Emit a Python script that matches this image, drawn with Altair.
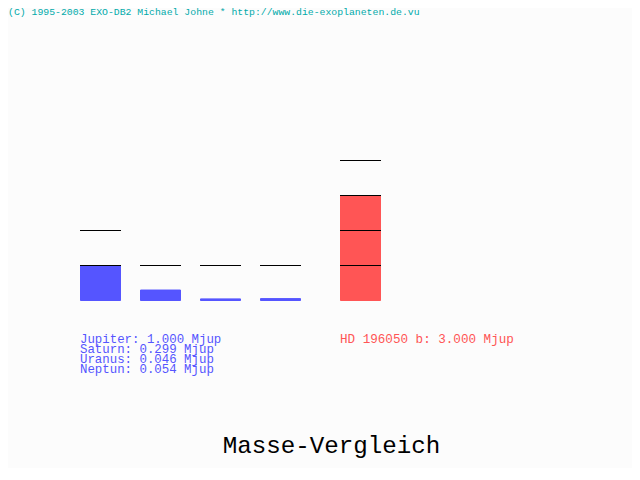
import math
import altair as alt
import pandas as pd

# ---- data ----
planet_names = ["Jupiter", "Saturn", "Uranus", "Neptun"]
planet_mass = [1.000, 0.299, 0.046, 0.054]
exo_name = ["HD 196050 b"]
exo_mass = [3.000]
copyright_text = "(C) 1995-2003 EXO-DB2 Michael Johne * http://www.die-exoplaneten.de.vu"
title_text = "Masse-Vergleich"
unit = "Mjup"

FONT = "Liberation Mono"
BLUE = "#5555ff"
RED = "#ff5555"
TEAL = "#00aaaa"

df_p = pd.DataFrame({"name": planet_names, "mass": planet_mass})
df_e = pd.DataFrame({"name": exo_name, "mass": exo_mass})


def grid_lines(names, masses):
    rows = []
    for n, m in zip(names, masses):
        for k in range(1, int(math.floor(m)) + 2):
            rows.append({"name": n, "k": k})
    return pd.DataFrame(rows)


lines_p = grid_lines(planet_names, planet_mass)
lines_e = grid_lines(exo_name, exo_mass)

yscale = alt.Scale(domain=[0, 8], range=[292.5, 12.5], nice=False, zero=True)
xs_p = alt.Scale(domain=planet_names, range=[72.5, 292.5], paddingInner=1 / 3,
                 paddingOuter=0, round=False)
xs_e = alt.Scale(domain=exo_name, range=[332.5, 372.5], paddingInner=0,
                 paddingOuter=0, round=False)

bars_p = alt.Chart(df_p).mark_bar(color=BLUE, stroke=BLUE, strokeWidth=1).encode(
    x=alt.X("name:N", scale=xs_p, axis=None, sort=planet_names),
    y=alt.Y("mass:Q", scale=yscale, axis=None),
)
ticks_p = alt.Chart(lines_p).mark_tick(color="black", size=41, thickness=1, opacity=1).encode(
    x=alt.X("name:N", scale=xs_p, axis=None, sort=planet_names),
    y=alt.Y("k:Q", scale=yscale, axis=None),
)
bars_e = alt.Chart(df_e).mark_bar(color=RED, stroke=RED, strokeWidth=1).encode(
    x=alt.X("name:N", scale=xs_e, axis=None),
    y=alt.Y("mass:Q", scale=yscale, axis=None),
)
ticks_e = alt.Chart(lines_e).mark_tick(color="black", size=41, thickness=1, opacity=1).encode(
    x=alt.X("name:N", scale=xs_e, axis=None),
    y=alt.Y("k:Q", scale=yscale, axis=None),
)

legend_p = "\n".join(f"{n}: {m:.3f} {unit}" for n, m in zip(planet_names, planet_mass))
legend_e = f"{exo_name[0]}: {exo_mass[0]:.3f} {unit}"

txt_p = alt.Chart(pd.DataFrame({"t": [legend_p]})).mark_text(
    font=FONT, fontSize=12.4, color=BLUE, align="left", baseline="alphabetic",
    lineBreak="\n", lineHeight=10,
).encode(text="t:N", x=alt.value(72), y=alt.value(334.5))

txt_e = alt.Chart(pd.DataFrame({"t": [legend_e]})).mark_text(
    font=FONT, fontSize=12.6, color=RED, align="left", baseline="alphabetic",
).encode(text="t:N", x=alt.value(332), y=alt.value(334.5))

txt_c = alt.Chart(pd.DataFrame({"t": [copyright_text]})).mark_text(
    font=FONT, fontSize=9.8, color=TEAL, align="left", baseline="alphabetic",
).encode(text="t:N", x=alt.value(0), y=alt.value(7))

txt_t = alt.Chart(pd.DataFrame({"t": [title_text]})).mark_text(
    font=FONT, fontSize=24.2, color="black", align="center", baseline="alphabetic",
).encode(text="t:N", x=alt.value(323.5), y=alt.value(445))

chart = alt.layer(
    bars_p, ticks_p, bars_e, ticks_e, txt_p, txt_e, txt_c, txt_t
).resolve_scale(x="independent").properties(
    width=624, height=460, autosize=alt.AutoSizeParams(type="none"), padding=0,
    background="#fcfcfc",
).configure_view(stroke=None)

chart.save("out.html", embed_options={"renderer": "svg", "actions": False})
